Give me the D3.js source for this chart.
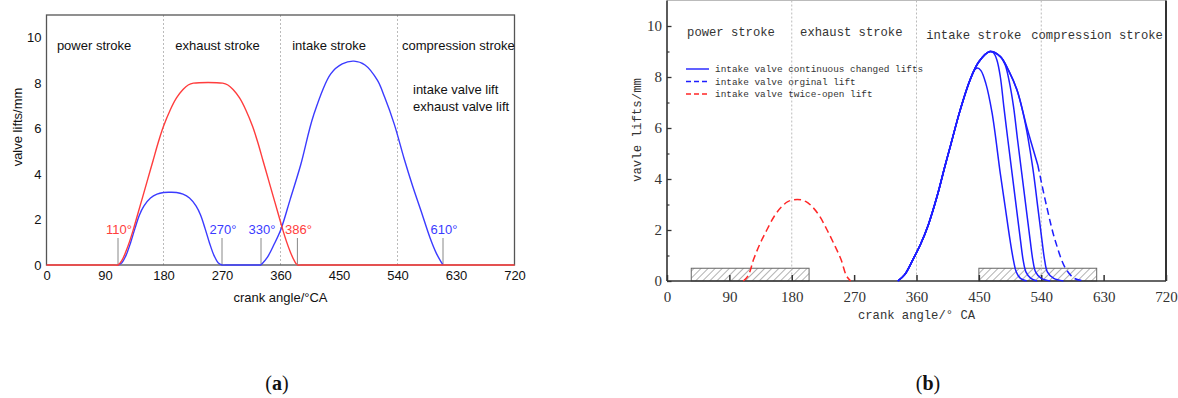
<!DOCTYPE html>
<html>
<head>
<meta charset="utf-8">
<script src="https://cdn.jsdelivr.net/npm/d3@7"></script>
<style>
  body { margin: 0; background: #fff; }
  svg { display: block; }
  .sans { font-family: "Liberation Sans", Arial, sans-serif; }
  .mono { font-family: "Liberation Mono", monospace; }
  .serif { font-family: "Liberation Serif", "Times New Roman", serif; }
</style>
</head>
<body>
<svg id="chart" width="1178" height="398"></svg>
<script>
// ---- data ----
const angleTicks = [0, 90, 180, 270, 360, 450, 540, 630, 720];
const liftTicks = [0, 2, 4, 6, 8, 10];
const liftMinorTicks = [1, 3, 5, 7, 9];
const strokeBounds = [180, 360, 540];
const strokeNames = ["power stroke", "exhaust stroke", "intake stroke", "compression stroke"];

// panel (a)
const exhaustLiftA = [[0,0],[104,0],[110,0],[116,0.2],[122,0.58],[128,1.05],[133,1.5],[140,2.2],[148,3.0],
  [156,3.8],[164,4.6],[172,5.4],[180,6.1],[190,6.8],[200,7.35],[210,7.72],[218,7.92],[226,8.0],[271,8.0],
  [279,7.92],[287,7.72],[297,7.35],[307,6.8],[317,6.1],[325,5.4],[333,4.6],[341,3.8],[349,3.0],[357,2.2],
  [364,1.5],[369,1.05],[375,0.58],[381,0.2],[386,0],[392,0],[720,0]];
const intakeTwiceA = [[110,0],[116,0.1],[122,0.4],[129,0.95],[136,1.6],[143,2.2],[150,2.6],[160,2.95],
  [170,3.12],[180,3.19],[190,3.2],[200,3.19],[210,3.12],[220,2.95],[230,2.6],[237,2.2],[244,1.6],
  [251,0.95],[258,0.4],[264,0.1],[270,0],[276,0],[330,0]];
const intakeMainA = [[330,0],[340,0.35],[350,0.9],[361,1.6],[375,2.9],[391,4.4],[411,6.6],[437,8.4],
  [455,8.85],[473,8.97],[490,8.8],[509,8.13],[520,7.4],[535,6.2],[550,4.7],[563,3.5],[576,2.4],
  [590,1.2],[600,0.5],[610,0]];
const timingMarks = [
  {angle: 110, valve: "exhaust"}, {angle: 270, valve: "intake"}, {angle: 330, valve: "intake"},
  {angle: 386, valve: "exhaust"}, {angle: 610, valve: "intake"}];
const legendA = ["intake valve lift", "exhaust valve lift"];

// panel (b)
const twiceOpenB = [[110,0],[117,0.2],[125,0.85],[134,1.45],[144,2.0],[155,2.55],[165,2.9],[175,3.12],
  [188,3.2],[200,3.12],[210,2.9],[220,2.55],[231,2.0],[241,1.45],[251,0.85],[259,0.2],[265,0]];
const originalB = [[333,0],[343,0.25],[355,0.85],[366,1.45],[377,2.2],[390,3.35],[401,4.5],[409,5.3],
  [423,6.7],[437.5,7.9],[450,8.6],[466,9.0],[481,8.8],[493,8.25],[505,7.49],[519,6.05],[535,4.55],
  [548,2.9],[560,1.6],[575,0.5],[588,0.1],[602,0]];
const solidEndB = 535;
const changedB = [
  {branch: 437.5, tail: [[443,8.25],[448,8.35],[453,8.25],[460,7.75],[469,6.6],[481,4.2],[488,2.9],[495,1.6],[500,0.8],[504,0.35],[510,0.1],[519,0]]},
  {branch: 466, tail: [[471,8.95],[476,8.67],[481,8.0],[486,6.84],[492,5.5],[498,4.2],[504,2.9],[510,1.6],[514,0.8],[518,0.35],[525,0.1],[534,0]]},
  {branch: 481, tail: [[488,8.47],[494,7.8],[500,6.84],[506,5.5],[512,4.2],[518,2.9],[524,1.6],[528,0.8],[532,0.35],[540,0.1],[553,0]]},
  {branch: 505, tail: [[512,6.8],[519,5.9],[524,5.1],[529,4.2],[535,2.9],[541,1.6],[545,0.8],[549,0.35],[558,0.1],[572,0]]}
];
const hatchBands = [[35, 205], [450, 620]];
const hatchHeight = 0.5;
const legendB = ["intake valve continuous changed lifts", "intake valve orginal lift", "intake valve twice-open lift"];

// ---- drawing ----
const svg = d3.select("#chart");
const RED_A = "#ff3d3d", BLUE_A = "#3b3bff";
const RED_B = "#ff2626", BLUE_B = "#1e1eff";
const smooth = d3.curveCatmullRom.alpha(0.5);

// ===== panel (a) =====
const xA = d3.scaleLinear().domain([0, 720]).range([46.5, 514.5]);
const yA = d3.scaleLinear().domain([0, 11]).range([265, 15]);
const gA = svg.append("g");
const lineA = d3.line().x(d => xA(d[0])).y(d => yA(d[1])).curve(smooth);

// stroke separators
gA.selectAll(".sep").data(strokeBounds).enter().append("line")
  .attr("x1", d => xA(d)).attr("x2", d => xA(d))
  .attr("y1", yA(11)).attr("y2", yA(0))
  .attr("stroke", "#bbb").attr("stroke-dasharray", "2,2");

// frame
gA.append("rect").attr("x", xA(0)).attr("y", yA(11))
  .attr("width", xA(720) - xA(0)).attr("height", yA(0) - yA(11))
  .attr("fill", "none").attr("stroke", "#555").attr("stroke-width", 1.3);

// axes
gA.append("g").attr("class", "sans").attr("transform", `translate(0,${yA(0)})`)
  .call(d3.axisBottom(xA).tickValues(angleTicks).tickSize(0).tickPadding(6))
  .call(g => g.select(".domain").remove())
  .selectAll("text").attr("font-size", 13).attr("fill", "#111");
gA.append("g").attr("class", "sans").attr("transform", `translate(${xA(0)},0)`)
  .call(d3.axisLeft(yA).tickValues(liftTicks).tickSize(0).tickPadding(5))
  .call(g => g.select(".domain").remove())
  .selectAll("text").attr("font-size", 13).attr("fill", "#111");

// timing marks
gA.selectAll(".mark").data(timingMarks).enter().append("line")
  .attr("x1", d => xA(d.angle)).attr("x2", d => xA(d.angle))
  .attr("y1", 238).attr("y2", yA(0))
  .attr("stroke", "#888").attr("stroke-width", 1);
gA.selectAll(".markTxt").data(timingMarks).enter().append("text")
  .attr("class", "sans").attr("font-size", 13)
  .attr("x", d => xA(d.angle) + 1).attr("y", 234)
  .attr("text-anchor", "middle")
  .attr("fill", d => d.valve === "exhaust" ? RED_A : BLUE_A)
  .text(d => d.angle + "°");

// curves
gA.append("path").datum(intakeTwiceA).attr("d", lineA)
  .attr("fill", "none").attr("stroke", BLUE_A).attr("stroke-width", 1.4);
gA.append("path").datum(intakeMainA).attr("d", lineA)
  .attr("fill", "none").attr("stroke", BLUE_A).attr("stroke-width", 1.4);
gA.append("path").datum(exhaustLiftA).attr("d", lineA)
  .attr("fill", "none").attr("stroke", RED_A).attr("stroke-width", 1.4);

// stroke labels
const strokeOffA = [16, 198, 378, 547];
gA.selectAll(".stroke").data(strokeNames).enter().append("text")
  .attr("class", "sans").attr("font-size", 13).attr("fill", "#111")
  .attr("x", (d, i) => xA(strokeOffA[i])).attr("y", 50)
  .text(d => d);

// legend text
gA.selectAll(".leg").data(legendA).enter().append("text")
  .attr("class", "sans").attr("font-size", 13).attr("fill", "#111")
  .attr("x", 413).attr("y", (d, i) => 94 + i * 17)
  .text(d => d);

// axis titles
gA.append("text").attr("class", "sans").attr("font-size", 13).attr("fill", "#111")
  .attr("text-anchor", "middle").attr("transform", "translate(22,127) rotate(-90)")
  .text("valve lifts/mm");
gA.append("text").attr("class", "sans").attr("font-size", 13).attr("fill", "#111")
  .attr("text-anchor", "middle").attr("x", (xA(0) + xA(720)) / 2).attr("y", 302)
  .text("crank angle/°CA");

// ===== panel (b) =====
const xB = d3.scaleLinear().domain([0, 720]).range([667, 1166]);
const yB = d3.scaleLinear().domain([0, 11]).range([281, 0.5]);
const gB = svg.append("g");
const lineB = d3.line().x(d => xB(d[0])).y(d => yB(d[1])).curve(smooth);

const defs = svg.append("defs");
const pat = defs.append("pattern").attr("id", "hatch").attr("patternUnits", "userSpaceOnUse")
  .attr("width", 5).attr("height", 5).attr("patternTransform", "rotate(45)");
pat.append("rect").attr("width", 5).attr("height", 5).attr("fill", "#fff");
pat.append("line").attr("x1", 0).attr("y1", 0).attr("x2", 0).attr("y2", 5)
  .attr("stroke", "#666").attr("stroke-width", 1);

// hatched bands
gB.selectAll(".band").data(hatchBands).enter().append("rect")
  .attr("x", d => xB(d[0])).attr("width", d => xB(d[1]) - xB(d[0]))
  .attr("y", yB(hatchHeight)).attr("height", yB(0) - yB(hatchHeight))
  .attr("fill", "url(#hatch)").attr("stroke", "#666").attr("stroke-width", 1);

// separators
gB.selectAll(".sep").data(strokeBounds).enter().append("line")
  .attr("x1", d => xB(d)).attr("x2", d => xB(d))
  .attr("y1", yB(11)).attr("y2", yB(0))
  .attr("stroke", "#bbb").attr("stroke-dasharray", "2,2");

// axes
const axB = gB.append("g").attr("class", "serif").attr("transform", `translate(0,${yB(0)})`)
  .call(d3.axisBottom(xB).tickValues(angleTicks).tickSize(-6).tickPadding(10));
axB.select(".domain").remove();
axB.selectAll("line").attr("stroke", "#333").attr("stroke-width", 1.5);
axB.selectAll("text").attr("font-size", 15).attr("fill", "#333");
const ayB = gB.append("g").attr("class", "serif").attr("transform", `translate(${xB(0)},0)`)
  .call(d3.axisLeft(yB).tickValues(liftTicks).tickSize(-4.5).tickPadding(5));
ayB.select(".domain").remove();
ayB.selectAll("line").attr("stroke", "#333").attr("stroke-width", 1.3);
ayB.selectAll("text").attr("font-size", 15).attr("fill", "#333");
const aymB = gB.append("g").attr("transform", `translate(${xB(0)},0)`)
  .call(d3.axisLeft(yB).tickValues(liftMinorTicks).tickSize(-2.5).tickFormat(""));
aymB.select(".domain").remove();
aymB.selectAll("line").attr("stroke", "#333").attr("stroke-width", 1.2);

// frame
gB.append("line").attr("x1", xB(0)).attr("x2", xB(720)).attr("y1", yB(11)).attr("y2", yB(11))
  .attr("stroke", "#bbb").attr("stroke-width", 1);
gB.append("line").attr("x1", xB(720)).attr("x2", xB(720)).attr("y1", yB(11)).attr("y2", yB(0))
  .attr("stroke", "#333").attr("stroke-width", 2);
gB.append("line").attr("x1", xB(0)).attr("x2", xB(720)).attr("y1", yB(0)).attr("y2", yB(0))
  .attr("stroke", "#333").attr("stroke-width", 1.6);
gB.append("line").attr("x1", xB(0)).attr("x2", xB(0)).attr("y1", yB(11)).attr("y2", yB(0))
  .attr("stroke", "#333").attr("stroke-width", 1.6);

// curves
gB.append("path").datum(twiceOpenB).attr("d", lineB)
  .attr("fill", "none").attr("stroke", RED_B).attr("stroke-width", 1.5).attr("stroke-dasharray", "7,4");
gB.append("path").datum(originalB.filter(d => d[0] >= solidEndB)).attr("d", lineB)
  .attr("fill", "none").attr("stroke", BLUE_B).attr("stroke-width", 1.5).attr("stroke-dasharray", "7,4");
gB.append("path").datum(originalB.filter(d => d[0] <= solidEndB)).attr("d", lineB)
  .attr("fill", "none").attr("stroke", BLUE_B).attr("stroke-width", 1.5);
gB.selectAll(".chg").data(changedB).enter().append("path")
  .attr("d", c => lineB(originalB.filter(d => d[0] <= c.branch).concat(c.tail)))
  .attr("fill", "none").attr("stroke", BLUE_B).attr("stroke-width", 1.5);

// stroke labels
const strokeOffB = [29, 192, 374, 525.5];
gB.selectAll(".stroke").data(strokeNames).enter().append("text")
  .attr("class", "mono").attr("font-size", 12.2).attr("fill", "#333")
  .attr("x", (d, i) => xB(strokeOffB[i])).attr("y", (d, i) => i < 2 ? 36 : 39)
  .text(d => d);

// legend
const legStyles = [[BLUE_B, null], [BLUE_B, "5,3"], [RED_B, "5,3"]];
const leg = gB.selectAll(".leg").data(legendB).enter().append("g")
  .attr("transform", (d, i) => `translate(686,${69 + i * 12.5})`);
leg.append("line").attr("x1", 0).attr("x2", 23).attr("y1", 0).attr("y2", 0)
  .attr("stroke", (d, i) => legStyles[i][0]).attr("stroke-width", 1.4)
  .attr("stroke-dasharray", (d, i) => legStyles[i][1]);
leg.append("text").attr("class", "mono").attr("font-size", 9.4).attr("fill", "#333")
  .attr("x", 29).attr("y", 3.3).text(d => d);

// axis titles
gB.append("text").attr("class", "mono").attr("font-size", 12.4).attr("fill", "#333")
  .attr("text-anchor", "middle").attr("transform", "translate(641,130) rotate(-90)")
  .text("vavle lifts/mm");
gB.append("text").attr("class", "mono").attr("font-size", 12.2).attr("fill", "#333")
  .attr("text-anchor", "middle").attr("x", (xB(0) + xB(720)) / 2).attr("y", 319)
  .text("crank angle/° CA");

// captions
const captions = ["a", "b"];
const capX = [277, 928];
svg.selectAll(".cap").data(captions).enter().append("text")
  .attr("class", "serif").attr("font-size", 20).attr("fill", "#111")
  .attr("text-anchor", "middle").attr("x", (d, i) => capX[i]).attr("y", 390)
  .each(function(d) {
    const t = d3.select(this);
    t.append("tspan").text("(");
    t.append("tspan").attr("font-weight", "bold").text(d);
    t.append("tspan").text(")");
  });
</script>
</body>
</html>
